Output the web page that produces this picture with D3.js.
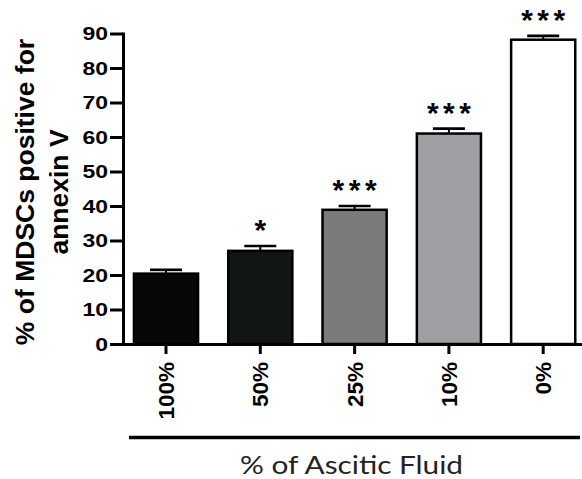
<!DOCTYPE html>
<html>
<head>
<meta charset="utf-8">
<script src="https://cdn.jsdelivr.net/npm/d3@7"></script>
<style>
  html, body { margin: 0; padding: 0; background: #fff; }
  svg { display: block; }
</style>
</head>
<body>
<svg id="chart" width="582" height="479"></svg>
<script>
// Ascitic fluid concentration groups and annexin V positivity (mean ± SEM)
const categories = ["100%", "50%", "25%", "10%", "0%"];
const values = [20.4, 27.0, 38.9, 61.0, 88.2];
const errors = [1.1, 1.4, 1.1, 1.4, 1.1];
const significance = ["", "*", "***", "***", "***"];
const fills = ["#070707", "#121612", "#7b7b7b", "#a0a0a4", "#ffffff"];
const yTicks = [0, 10, 20, 30, 40, 50, 60, 70, 80, 90];
const yTitleLines = ["% of MDSCs positive for", "annexin V"];
const xTitle = "% of Ascitic Fluid";

const svg = d3.select("#chart");
const axisX = 123, baseY = 344, topY = 33.5;

const y = d3.scaleLinear().domain([0, 90]).range([baseY, topY]);
const x = d3.scaleBand()
  .domain(categories)
  .range([118.85, 590.35])
  .paddingInner(0.32)
  .paddingOuter(0.16);

const boldFont = "'Liberation Sans', Arial, Helvetica, sans-serif";

// Bars
svg.append("g").selectAll("rect")
  .data(categories)
  .join("rect")
  .attr("x", d => x(d))
  .attr("y", (d, i) => y(values[i]))
  .attr("width", x.bandwidth())
  .attr("height", (d, i) => y(0) - y(values[i]))
  .attr("fill", (d, i) => fills[i])
  .attr("stroke", "#000")
  .attr("stroke-width", 2.5);

// Error bars (upper whisker only)
const eb = svg.append("g").selectAll("g")
  .data(categories)
  .join("g");
eb.append("line")
  .attr("x1", d => x(d) + x.bandwidth() / 2)
  .attr("x2", d => x(d) + x.bandwidth() / 2)
  .attr("y1", (d, i) => y(values[i]))
  .attr("y2", (d, i) => y(values[i] + errors[i]))
  .attr("stroke", "#000")
  .attr("stroke-width", 2);
eb.append("line")
  .attr("x1", d => x(d) + x.bandwidth() / 2 - 16)
  .attr("x2", d => x(d) + x.bandwidth() / 2 + 16)
  .attr("y1", (d, i) => y(values[i] + errors[i]))
  .attr("y2", (d, i) => y(values[i] + errors[i]))
  .attr("stroke", "#000")
  .attr("stroke-width", 2.7);

// Significance stars
const stars = svg.append("g").selectAll("text")
  .data(categories)
  .join("text")
  .attr("x", d => x(d) + x.bandwidth() / 2)
  .attr("y", (d, i) => y(values[i] + errors[i]) - 6)
  .attr("text-anchor", "middle")
  .attr("font-family", boldFont)
  .attr("font-weight", "bold")
  .attr("font-size", 30)
  .attr("fill", "#000")
  .text((d, i) => significance[i]);
stars.filter((d, i) => significance[i].length > 1)
  .attr("textLength", 44)
  .attr("lengthAdjust", "spacing");

// Y axis
const yAxis = svg.append("g")
  .attr("transform", `translate(${axisX},0)`)
  .call(d3.axisLeft(y).tickValues(yTicks).tickFormat(d3.format("d")).tickSize(13).tickSizeOuter(0));
yAxis.select(".domain").attr("stroke", "#000").attr("stroke-width", 3).attr("stroke-linecap", "square");
yAxis.selectAll(".tick line").attr("stroke", "#000").attr("stroke-width", 3);
yAxis.selectAll(".tick text")
  .attr("x", 0)
  .attr("dy", "0.36em")
  .attr("transform", "translate(-15,0) scale(1,0.76)")
  .attr("text-anchor", "end")
  .attr("font-family", boldFont)
  .attr("font-weight", "bold")
  .attr("font-size", 23)
  .attr("fill", "#000");

// X axis
const xAxis = svg.append("g")
  .attr("transform", `translate(0,${baseY})`)
  .call(d3.axisBottom(x).tickSize(10).tickSizeOuter(0));
xAxis.select(".domain").attr("stroke", "#000").attr("stroke-width", 3);
xAxis.selectAll(".tick line").attr("stroke", "#000").attr("stroke-width", 3);
xAxis.selectAll(".tick text")
  .attr("x", -18)
  .attr("y", 0)
  .attr("dy", "0.36em")
  .attr("transform", "rotate(-90)")
  .attr("text-anchor", "end")
  .attr("font-family", boldFont)
  .attr("font-weight", "bold")
  .attr("font-size", 22.5)
  .attr("fill", "#000");

// Y axis title (two lines, rotated)
const yt = svg.append("g")
  .attr("font-family", boldFont)
  .attr("font-weight", "bold")
  .attr("font-size", 26.5)
  .attr("fill", "#000")
  .attr("text-anchor", "middle");
yTitleLines.forEach((line, i) => {
  yt.append("text")
    .attr("transform", `translate(${34 + i * 34},192) rotate(-90)`)
    .text(line);
});

// Group bracket and x title
svg.append("line")
  .attr("x1", 129).attr("x2", 580)
  .attr("y1", 437.5).attr("y2", 437.5)
  .attr("stroke", "#000")
  .attr("stroke-width", 3.5);

svg.append("text")
  .attr("x", 351.5)
  .attr("y", 474)
  .attr("text-anchor", "middle")
  .attr("font-family", "Lato, 'Open Sans', sans-serif")
  .attr("font-size", 25.5)
  .attr("fill", "#222")
  .attr("textLength", 223)
  .attr("lengthAdjust", "spacingAndGlyphs")
  .text(xTitle);
</script>
</body>
</html>
